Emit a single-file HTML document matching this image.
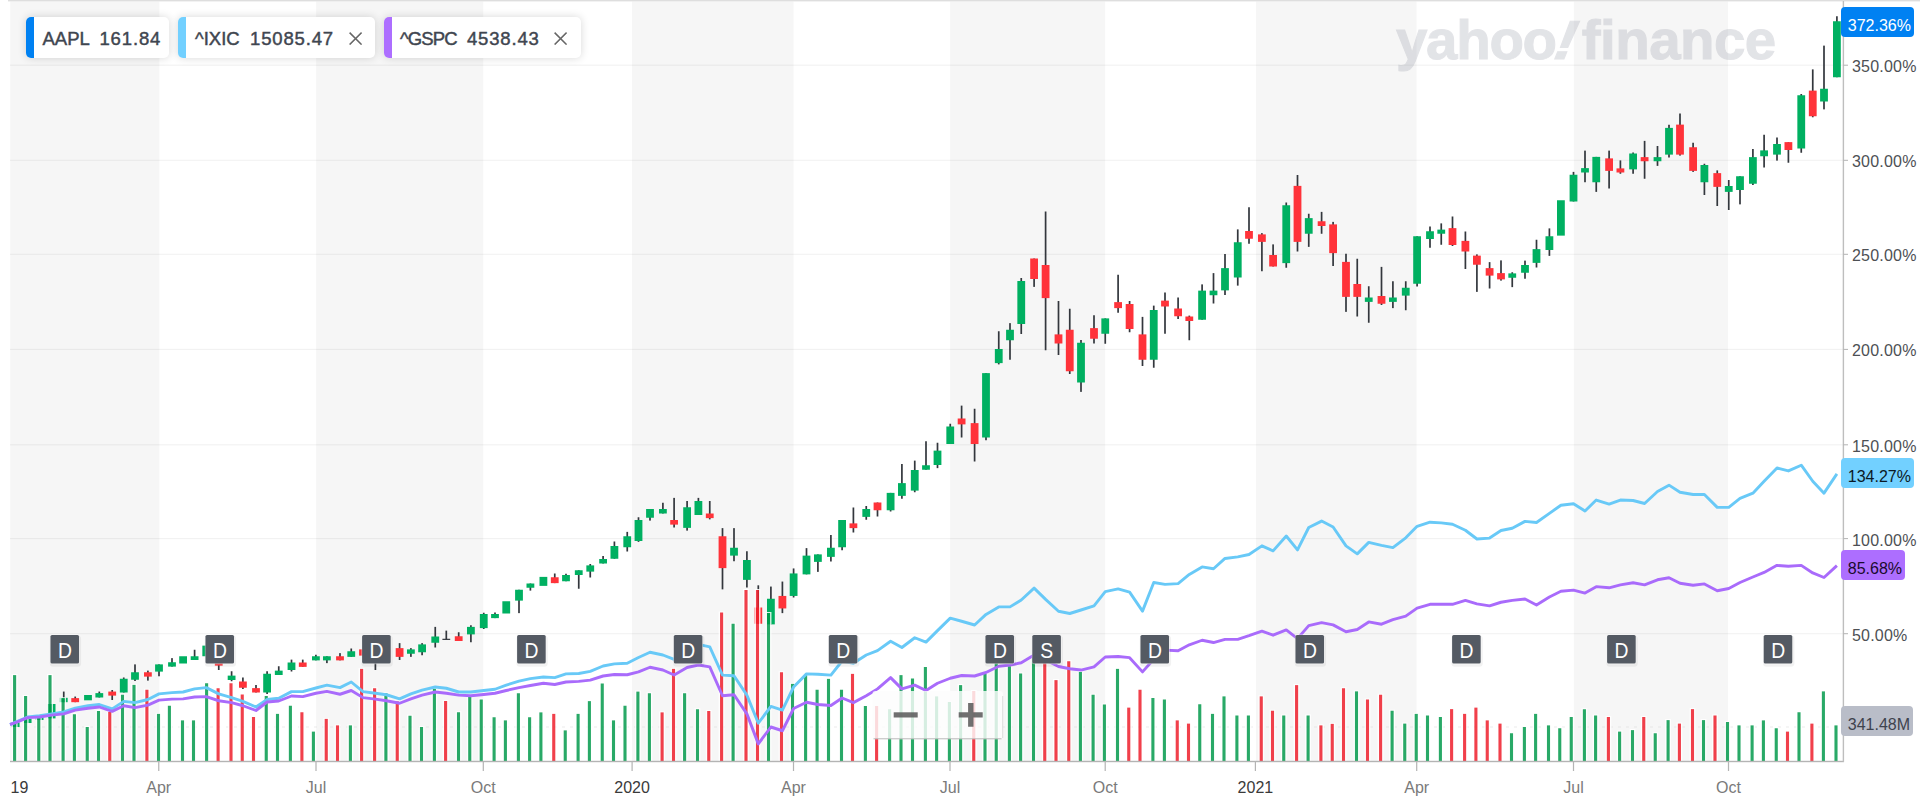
<!DOCTYPE html>
<html lang="en"><head><meta charset="utf-8"><title>AAPL Interactive Stock Chart</title>
<style>
html,body{margin:0;padding:0;background:#fff;}
body{width:1920px;height:806px;position:relative;overflow:hidden;font-family:"Liberation Sans",Arial,sans-serif;}
.yl{position:absolute;left:1852px;width:66px;height:18px;line-height:18px;font-size:16px;color:#4d5054;white-space:nowrap;letter-spacing:0.2px}
.xl{position:absolute;top:779.1px;width:60px;text-align:center;font-size:16px;line-height:18px;color:#7a7a7a;white-space:nowrap}
.xl.yr{color:#3a3a3a}
.pl{position:absolute;left:1841.3px;height:30px;line-height:30px;padding-top:4px;border-radius:4px;font-size:16px;box-sizing:border-box;padding-left:6.5px;white-space:nowrap}
.pill{position:absolute;top:16.5px;height:41.5px;background:#fff;border-radius:5px;box-shadow:0 0 8px rgba(0,0,0,0.16);overflow:hidden;box-sizing:border-box;}
.pill .strip{position:absolute;left:0;top:0;bottom:0;width:8px}
.pill .tx{position:absolute;top:0;height:41.5px;line-height:43.6px;font-size:18.5px;color:#3f4650;-webkit-text-stroke:0.45px #3f4650;white-space:pre;letter-spacing:0}
.pill .tx.pr{letter-spacing:0.85px}
.pill svg{position:absolute;top:15.8px}
.wm{position:absolute;left:1396px;top:7.7px;font-weight:bold;font-size:55px;line-height:64px;color:#9498a6;-webkit-text-stroke:1px #9498a6;opacity:0.26;white-space:nowrap;letter-spacing:0;transform-origin:0 0;transform:scaleX(1.026)}
.wm i{font-style:italic}
</style></head><body>
<svg width="1920" height="806" viewBox="0 0 1920 806" style="position:absolute;left:0;top:0">
<rect x="10.3" y="1.5" width="149" height="760" fill="#f6f6f6"/>
<rect x="316.2" y="1.5" width="167" height="760" fill="#f6f6f6"/>
<rect x="632" y="1.5" width="161.5" height="760" fill="#f6f6f6"/>
<rect x="950.2" y="1.5" width="154.9" height="760" fill="#f6f6f6"/>
<rect x="1256" y="1.5" width="160.5" height="760" fill="#f6f6f6"/>
<rect x="1573.9" y="1.5" width="154" height="760" fill="#f6f6f6"/>
<rect x="8" y="0" width="1912" height="1.4" fill="#dedede"/>
<rect x="10" y="64.6" width="1833.4" height="1.2" fill="rgba(0,0,0,0.05)"/>
<rect x="10" y="159.7" width="1833.4" height="1.2" fill="rgba(0,0,0,0.05)"/>
<rect x="10" y="253.7" width="1833.4" height="1.2" fill="rgba(0,0,0,0.05)"/>
<rect x="10" y="348.8" width="1833.4" height="1.2" fill="rgba(0,0,0,0.05)"/>
<rect x="10" y="444.2" width="1833.4" height="1.2" fill="rgba(0,0,0,0.05)"/>
<rect x="10" y="538" width="1833.4" height="1.2" fill="rgba(0,0,0,0.05)"/>
<rect x="10" y="633.1" width="1833.4" height="1.2" fill="rgba(0,0,0,0.05)"/>
<line x1="10" y1="727" x2="1843" y2="727" stroke="#dcdcdc" stroke-width="1" stroke-dasharray="3 5" opacity="0.55"/>
<g>
<rect x="11.76" y="722.5" width="7.8" height="4.5" fill="#00b061"/>
<rect x="23.74" y="718.75" width="7.8" height="4.25" fill="#00b061"/>
<rect x="35.72" y="717.5" width="7.8" height="2.5" fill="#00b061"/>
<rect x="47.7" y="704" width="7.8" height="14.4" fill="#00b061"/>
<rect x="62.9" y="691.56" width="1.7" height="10.62" fill="#33373d"/>
<rect x="59.85" y="697.81" width="7.8" height="4.38" fill="#00b061"/>
<rect x="74.35" y="696.56" width="1.7" height="5.62" fill="#33373d"/>
<rect x="71.3" y="698.12" width="7.8" height="4.06" fill="#ff333a"/>
<rect x="84.1" y="695" width="7.8" height="5.31" fill="#00b061"/>
<rect x="98.45" y="691.56" width="1.7" height="5.94" fill="#33373d"/>
<rect x="95.4" y="693.12" width="7.8" height="4.38" fill="#00b061"/>
<rect x="111.35" y="690" width="1.7" height="10" fill="#33373d"/>
<rect x="108.3" y="691.56" width="7.8" height="4.06" fill="#ff333a"/>
<rect x="122.9" y="677.5" width="1.7" height="15" fill="#33373d"/>
<rect x="119.85" y="678.75" width="7.8" height="13.75" fill="#00b061"/>
<rect x="134.15" y="664.38" width="1.7" height="16.62" fill="#33373d"/>
<rect x="131.1" y="672.25" width="7.8" height="7.5" fill="#00b061"/>
<rect x="147.05" y="670.62" width="1.7" height="10" fill="#33373d"/>
<rect x="144" y="672.25" width="7.8" height="4.38" fill="#ff333a"/>
<rect x="158.15" y="664.38" width="1.7" height="11.88" fill="#33373d"/>
<rect x="155.1" y="664.38" width="7.8" height="7.25" fill="#00b061"/>
<rect x="171.15" y="658.12" width="1.7" height="8.5" fill="#33373d"/>
<rect x="168.1" y="662.25" width="7.8" height="4.38" fill="#00b061"/>
<rect x="179.2" y="656.25" width="7.8" height="7.25" fill="#00b061"/>
<rect x="193.75" y="649.75" width="1.7" height="10.25" fill="#33373d"/>
<rect x="190.7" y="656.25" width="7.8" height="3.75" fill="#00b061"/>
<rect x="202.35" y="645.62" width="7.8" height="10.62" fill="#00b061"/>
<rect x="217.9" y="660" width="1.7" height="10" fill="#33373d"/>
<rect x="214.85" y="660" width="7.8" height="5.62" fill="#ff333a"/>
<rect x="230.75" y="671.25" width="1.7" height="10" fill="#33373d"/>
<rect x="227.7" y="675.62" width="7.8" height="4.38" fill="#00b061"/>
<rect x="242.05" y="677.5" width="1.7" height="11.5" fill="#33373d"/>
<rect x="239" y="681.5" width="7.8" height="6.25" fill="#ff333a"/>
<rect x="255.15" y="685" width="1.7" height="7.5" fill="#33373d"/>
<rect x="252.1" y="688.12" width="7.8" height="4.38" fill="#ff333a"/>
<rect x="266.25" y="671.25" width="1.7" height="22.75" fill="#33373d"/>
<rect x="263.2" y="673.75" width="7.8" height="18.75" fill="#00b061"/>
<rect x="277.9" y="666.25" width="1.7" height="8.75" fill="#33373d"/>
<rect x="274.85" y="670.62" width="7.8" height="4.38" fill="#00b061"/>
<rect x="290.65" y="659.62" width="1.7" height="11.88" fill="#33373d"/>
<rect x="287.6" y="662.5" width="7.8" height="7.5" fill="#00b061"/>
<rect x="301.9" y="659.62" width="1.7" height="7.25" fill="#33373d"/>
<rect x="298.85" y="662.5" width="7.8" height="4.38" fill="#ff333a"/>
<rect x="315.05" y="654.75" width="1.7" height="5.62" fill="#33373d"/>
<rect x="312" y="656.25" width="7.8" height="4.12" fill="#00b061"/>
<rect x="326.05" y="656.25" width="1.7" height="6.88" fill="#33373d"/>
<rect x="323" y="656.25" width="7.8" height="4.12" fill="#00b061"/>
<rect x="339.15" y="653.12" width="1.7" height="7.25" fill="#33373d"/>
<rect x="336.1" y="656.25" width="7.8" height="4.12" fill="#ff333a"/>
<rect x="350.4" y="648.5" width="1.7" height="8.38" fill="#33373d"/>
<rect x="347.35" y="651.25" width="7.8" height="5.62" fill="#00b061"/>
<rect x="359.1" y="649.38" width="7.8" height="6.25" fill="#ff333a"/>
<rect x="374.55" y="651.25" width="1.7" height="18.75" fill="#33373d"/>
<rect x="371.5" y="651.25" width="7.8" height="8.75" fill="#00b061"/>
<rect x="382.5" y="650" width="7.8" height="7.5" fill="#ff333a"/>
<rect x="398.75" y="643.12" width="1.7" height="16.88" fill="#33373d"/>
<rect x="395.7" y="648.12" width="7.8" height="8.75" fill="#ff333a"/>
<rect x="410.05" y="648.12" width="1.7" height="8.75" fill="#33373d"/>
<rect x="407" y="649.38" width="7.8" height="4.38" fill="#00b061"/>
<rect x="421.25" y="643.12" width="1.7" height="12.12" fill="#33373d"/>
<rect x="418.2" y="644.38" width="7.8" height="7.88" fill="#00b061"/>
<rect x="434.4" y="626.88" width="1.7" height="20.62" fill="#33373d"/>
<rect x="431.35" y="636.5" width="7.8" height="6.25" fill="#00b061"/>
<rect x="445.45" y="630.62" width="1.7" height="9" fill="#33373d"/>
<rect x="442.4" y="638.75" width="7.8" height="1.2" fill="#33373d"/>
<rect x="457.85" y="632.25" width="1.7" height="8.75" fill="#33373d"/>
<rect x="454.8" y="636.25" width="7.8" height="4.75" fill="#ff333a"/>
<rect x="470.05" y="625.25" width="1.7" height="17" fill="#33373d"/>
<rect x="467" y="626.88" width="7.8" height="7.5" fill="#00b061"/>
<rect x="482.9" y="612.75" width="1.7" height="16.25" fill="#33373d"/>
<rect x="479.85" y="614" width="7.8" height="14.12" fill="#00b061"/>
<rect x="494.15" y="612.5" width="1.7" height="5.62" fill="#33373d"/>
<rect x="491.1" y="614" width="7.8" height="4.12" fill="#00b061"/>
<rect x="502.35" y="601.25" width="7.8" height="12.25" fill="#00b061"/>
<rect x="518.15" y="589.75" width="1.7" height="23.38" fill="#33373d"/>
<rect x="515.1" y="589.75" width="7.8" height="10.88" fill="#00b061"/>
<rect x="529.55" y="583.5" width="1.7" height="7.12" fill="#33373d"/>
<rect x="526.5" y="583.5" width="7.8" height="4.25" fill="#00b061"/>
<rect x="539.5" y="576.88" width="7.8" height="9" fill="#00b061"/>
<rect x="553.9" y="573.5" width="1.7" height="9.62" fill="#33373d"/>
<rect x="550.85" y="577.25" width="7.8" height="5.88" fill="#ff333a"/>
<rect x="565.15" y="573.75" width="1.7" height="7.5" fill="#33373d"/>
<rect x="562.1" y="575" width="7.8" height="6.25" fill="#00b061"/>
<rect x="577.9" y="570.25" width="1.7" height="18.5" fill="#33373d"/>
<rect x="574.85" y="570.25" width="7.8" height="4.75" fill="#00b061"/>
<rect x="589.4" y="564" width="1.7" height="13.5" fill="#33373d"/>
<rect x="586.35" y="565.38" width="7.8" height="6.25" fill="#00b061"/>
<rect x="602.25" y="556" width="1.7" height="7.5" fill="#33373d"/>
<rect x="599.2" y="559" width="7.8" height="4.5" fill="#00b061"/>
<rect x="613.55" y="541.5" width="1.7" height="17.25" fill="#33373d"/>
<rect x="610.5" y="546" width="7.8" height="12.75" fill="#00b061"/>
<rect x="626.4" y="531.88" width="1.7" height="19.62" fill="#33373d"/>
<rect x="623.35" y="536.25" width="7.8" height="11" fill="#00b061"/>
<rect x="637.65" y="517.25" width="1.7" height="24.62" fill="#33373d"/>
<rect x="634.6" y="520" width="7.8" height="21" fill="#00b061"/>
<rect x="649.15" y="509" width="1.7" height="11.62" fill="#33373d"/>
<rect x="646.1" y="509" width="7.8" height="8.75" fill="#00b061"/>
<rect x="662.05" y="502.75" width="1.7" height="10.75" fill="#33373d"/>
<rect x="659" y="509" width="7.8" height="4.5" fill="#00b061"/>
<rect x="673.25" y="497.88" width="1.7" height="29.62" fill="#33373d"/>
<rect x="670.2" y="520" width="7.8" height="4.62" fill="#ff333a"/>
<rect x="686.25" y="501" width="1.7" height="29.62" fill="#33373d"/>
<rect x="683.2" y="507.25" width="7.8" height="20.62" fill="#00b061"/>
<rect x="697.55" y="497.88" width="1.7" height="17.12" fill="#33373d"/>
<rect x="694.5" y="501" width="7.8" height="14" fill="#00b061"/>
<rect x="708.9" y="501" width="1.7" height="18.38" fill="#33373d"/>
<rect x="705.85" y="513.5" width="7.8" height="4.62" fill="#ff333a"/>
<rect x="721.65" y="528.12" width="1.7" height="61.25" fill="#33373d"/>
<rect x="718.6" y="536.25" width="7.8" height="31.88" fill="#ff333a"/>
<rect x="733.15" y="528.12" width="1.7" height="33.12" fill="#33373d"/>
<rect x="730.1" y="547.75" width="7.8" height="7.88" fill="#00b061"/>
<rect x="746.05" y="551.25" width="1.7" height="36.25" fill="#33373d"/>
<rect x="743" y="560" width="7.8" height="19.88" fill="#00b061"/>
<rect x="757.45" y="585.31" width="1.7" height="38.44" fill="#33373d"/>
<rect x="754.4" y="607.5" width="7.8" height="16.25" fill="#ff333a"/>
<rect x="770.05" y="586.56" width="1.7" height="37.81" fill="#33373d"/>
<rect x="767" y="598.75" width="7.8" height="25.62" fill="#00b061"/>
<rect x="781.55" y="581.56" width="1.7" height="31.56" fill="#33373d"/>
<rect x="778.5" y="595.94" width="7.8" height="12.5" fill="#ff333a"/>
<rect x="792.75" y="568.44" width="1.7" height="29.06" fill="#33373d"/>
<rect x="789.7" y="573.44" width="7.8" height="22.5" fill="#00b061"/>
<rect x="805.65" y="548.12" width="1.7" height="26.25" fill="#33373d"/>
<rect x="802.6" y="555.62" width="7.8" height="18.75" fill="#00b061"/>
<rect x="817.05" y="554.38" width="1.7" height="17.5" fill="#33373d"/>
<rect x="814" y="554.38" width="7.8" height="7.5" fill="#00b061"/>
<rect x="830.05" y="535" width="1.7" height="26.5" fill="#33373d"/>
<rect x="827" y="547.75" width="7.8" height="9.12" fill="#00b061"/>
<rect x="841.25" y="520" width="1.7" height="30.25" fill="#33373d"/>
<rect x="838.2" y="520" width="7.8" height="27.25" fill="#00b061"/>
<rect x="852.55" y="507.5" width="1.7" height="25" fill="#33373d"/>
<rect x="849.5" y="523.38" width="7.8" height="4.75" fill="#ff333a"/>
<rect x="865.4" y="506" width="1.7" height="13.75" fill="#33373d"/>
<rect x="862.35" y="509" width="7.8" height="7.88" fill="#00b061"/>
<rect x="876.65" y="502.5" width="1.7" height="14" fill="#33373d"/>
<rect x="873.6" y="502.5" width="7.8" height="7.75" fill="#ff333a"/>
<rect x="889.75" y="492.88" width="1.7" height="18.62" fill="#33373d"/>
<rect x="886.7" y="492.88" width="7.8" height="17.38" fill="#00b061"/>
<rect x="901.05" y="464" width="1.7" height="34.75" fill="#33373d"/>
<rect x="898" y="483.12" width="7.8" height="12.75" fill="#00b061"/>
<rect x="913.9" y="460.62" width="1.7" height="31.62" fill="#33373d"/>
<rect x="910.85" y="470" width="7.8" height="20.62" fill="#00b061"/>
<rect x="925.15" y="441.25" width="1.7" height="28.5" fill="#33373d"/>
<rect x="922.1" y="465.25" width="7.8" height="4.5" fill="#00b061"/>
<rect x="936.65" y="442.75" width="1.7" height="25.38" fill="#33373d"/>
<rect x="933.6" y="450.62" width="7.8" height="14.38" fill="#00b061"/>
<rect x="949.4" y="423.75" width="1.7" height="20.25" fill="#33373d"/>
<rect x="946.35" y="426.5" width="7.8" height="17.5" fill="#00b061"/>
<rect x="960.75" y="405.62" width="1.7" height="31.88" fill="#33373d"/>
<rect x="957.7" y="418.5" width="7.8" height="5.88" fill="#ff333a"/>
<rect x="973.75" y="408.75" width="1.7" height="52.75" fill="#33373d"/>
<rect x="970.7" y="423.12" width="7.8" height="20.88" fill="#ff333a"/>
<rect x="985.15" y="373.12" width="1.7" height="67.12" fill="#33373d"/>
<rect x="982.1" y="373.12" width="7.8" height="64.38" fill="#00b061"/>
<rect x="997.9" y="331.25" width="1.7" height="33.12" fill="#33373d"/>
<rect x="994.85" y="349" width="7.8" height="14.12" fill="#00b061"/>
<rect x="1009.15" y="323.12" width="1.7" height="36.62" fill="#33373d"/>
<rect x="1006.1" y="329.75" width="7.8" height="10.5" fill="#00b061"/>
<rect x="1020.4" y="278" width="1.7" height="56" fill="#33373d"/>
<rect x="1017.35" y="281" width="7.8" height="43" fill="#00b061"/>
<rect x="1033.25" y="258.5" width="1.7" height="28.38" fill="#33373d"/>
<rect x="1030.2" y="258.5" width="7.8" height="20.5" fill="#ff333a"/>
<rect x="1044.75" y="211.5" width="1.7" height="138.75" fill="#33373d"/>
<rect x="1041.7" y="265" width="7.8" height="33.12" fill="#ff333a"/>
<rect x="1057.65" y="301" width="1.7" height="54" fill="#33373d"/>
<rect x="1054.6" y="334.38" width="7.8" height="9.12" fill="#ff333a"/>
<rect x="1068.9" y="308.75" width="1.7" height="65.25" fill="#33373d"/>
<rect x="1065.85" y="329.75" width="7.8" height="41.5" fill="#ff333a"/>
<rect x="1080.15" y="340" width="1.7" height="51.88" fill="#33373d"/>
<rect x="1077.1" y="342.75" width="7.8" height="39.75" fill="#00b061"/>
<rect x="1093.15" y="315.25" width="1.7" height="28.25" fill="#33373d"/>
<rect x="1090.1" y="328.12" width="7.8" height="10.62" fill="#ff333a"/>
<rect x="1104.4" y="318.38" width="1.7" height="25.38" fill="#33373d"/>
<rect x="1101.35" y="318.38" width="7.8" height="15.38" fill="#00b061"/>
<rect x="1117.25" y="274.75" width="1.7" height="38" fill="#33373d"/>
<rect x="1114.2" y="302.12" width="7.8" height="6" fill="#ff333a"/>
<rect x="1128.75" y="301" width="1.7" height="31.25" fill="#33373d"/>
<rect x="1125.7" y="304" width="7.8" height="25" fill="#ff333a"/>
<rect x="1141.65" y="316.88" width="1.7" height="49.12" fill="#33373d"/>
<rect x="1138.6" y="334.38" width="7.8" height="25.38" fill="#ff333a"/>
<rect x="1152.9" y="305.62" width="1.7" height="62.12" fill="#33373d"/>
<rect x="1149.85" y="310" width="7.8" height="49.75" fill="#00b061"/>
<rect x="1164.15" y="292.5" width="1.7" height="41.25" fill="#33373d"/>
<rect x="1161.1" y="300.62" width="7.8" height="5.88" fill="#ff333a"/>
<rect x="1177.25" y="297.5" width="1.7" height="21.5" fill="#33373d"/>
<rect x="1174.2" y="308.5" width="7.8" height="7.75" fill="#ff333a"/>
<rect x="1188.45" y="315.62" width="1.7" height="24.62" fill="#33373d"/>
<rect x="1185.4" y="316.5" width="7.8" height="4.5" fill="#ff333a"/>
<rect x="1201.25" y="284.38" width="1.7" height="35.38" fill="#33373d"/>
<rect x="1198.2" y="290.62" width="7.8" height="29.12" fill="#00b061"/>
<rect x="1212.65" y="273.12" width="1.7" height="30.38" fill="#33373d"/>
<rect x="1209.6" y="290.62" width="7.8" height="4.62" fill="#00b061"/>
<rect x="1224.15" y="254" width="1.7" height="41" fill="#33373d"/>
<rect x="1221.1" y="268.12" width="7.8" height="22.25" fill="#00b061"/>
<rect x="1236.9" y="229.38" width="1.7" height="56.25" fill="#33373d"/>
<rect x="1233.85" y="242.25" width="7.8" height="35.25" fill="#00b061"/>
<rect x="1248.15" y="207.25" width="1.7" height="36.5" fill="#33373d"/>
<rect x="1245.1" y="231" width="7.8" height="7.75" fill="#ff333a"/>
<rect x="1261.05" y="233.12" width="1.7" height="38.12" fill="#33373d"/>
<rect x="1258" y="234.38" width="7.8" height="7.5" fill="#ff333a"/>
<rect x="1272.25" y="244.38" width="1.7" height="22.12" fill="#33373d"/>
<rect x="1269.2" y="255" width="7.8" height="11.5" fill="#ff333a"/>
<rect x="1285.4" y="202.5" width="1.7" height="65.25" fill="#33373d"/>
<rect x="1282.35" y="205.25" width="7.8" height="57.88" fill="#00b061"/>
<rect x="1296.65" y="175" width="1.7" height="76.5" fill="#33373d"/>
<rect x="1293.6" y="185.88" width="7.8" height="56" fill="#ff333a"/>
<rect x="1307.9" y="213.75" width="1.7" height="33.12" fill="#33373d"/>
<rect x="1304.85" y="218.12" width="7.8" height="15.62" fill="#00b061"/>
<rect x="1320.75" y="211.88" width="1.7" height="21.88" fill="#33373d"/>
<rect x="1317.7" y="221.25" width="7.8" height="4.75" fill="#ff333a"/>
<rect x="1332.25" y="221.88" width="1.7" height="44.12" fill="#33373d"/>
<rect x="1329.2" y="224.38" width="7.8" height="28.75" fill="#ff333a"/>
<rect x="1345.15" y="253.75" width="1.7" height="58.12" fill="#33373d"/>
<rect x="1342.1" y="261.88" width="7.8" height="35" fill="#ff333a"/>
<rect x="1356.4" y="258.75" width="1.7" height="57.75" fill="#33373d"/>
<rect x="1353.35" y="284" width="7.8" height="12.88" fill="#ff333a"/>
<rect x="1367.9" y="286.25" width="1.7" height="36.5" fill="#33373d"/>
<rect x="1364.85" y="297.5" width="7.8" height="4.38" fill="#00b061"/>
<rect x="1380.65" y="266.88" width="1.7" height="38.12" fill="#33373d"/>
<rect x="1377.6" y="296" width="7.8" height="7.75" fill="#ff333a"/>
<rect x="1392.05" y="281.25" width="1.7" height="26.88" fill="#33373d"/>
<rect x="1389" y="297.5" width="7.8" height="4.38" fill="#00b061"/>
<rect x="1404.9" y="281.25" width="1.7" height="29" fill="#33373d"/>
<rect x="1401.85" y="287.75" width="7.8" height="7.88" fill="#00b061"/>
<rect x="1416.25" y="236.25" width="1.7" height="50.25" fill="#33373d"/>
<rect x="1413.2" y="236.25" width="7.8" height="47.5" fill="#00b061"/>
<rect x="1429.15" y="226.5" width="1.7" height="21.25" fill="#33373d"/>
<rect x="1426.1" y="231.25" width="7.8" height="7.75" fill="#00b061"/>
<rect x="1440.4" y="223.38" width="1.7" height="21.38" fill="#33373d"/>
<rect x="1437.35" y="229.62" width="7.8" height="4.12" fill="#00b061"/>
<rect x="1451.65" y="216.5" width="1.7" height="29.5" fill="#33373d"/>
<rect x="1448.6" y="228.12" width="7.8" height="16.88" fill="#ff333a"/>
<rect x="1464.55" y="231.5" width="1.7" height="37.5" fill="#33373d"/>
<rect x="1461.5" y="240.88" width="7.8" height="10.62" fill="#ff333a"/>
<rect x="1476.05" y="254.38" width="1.7" height="37.5" fill="#33373d"/>
<rect x="1473" y="255.62" width="7.8" height="9.12" fill="#ff333a"/>
<rect x="1488.75" y="262.12" width="1.7" height="26.38" fill="#33373d"/>
<rect x="1485.7" y="268.12" width="7.8" height="7.5" fill="#ff333a"/>
<rect x="1500.15" y="260.38" width="1.7" height="20.25" fill="#33373d"/>
<rect x="1497.1" y="273.12" width="7.8" height="6.25" fill="#ff333a"/>
<rect x="1511.4" y="272.25" width="1.7" height="14.88" fill="#33373d"/>
<rect x="1508.35" y="273.38" width="7.8" height="4.38" fill="#00b061"/>
<rect x="1524.15" y="260.62" width="1.7" height="18.12" fill="#33373d"/>
<rect x="1521.1" y="265" width="7.8" height="7.75" fill="#00b061"/>
<rect x="1535.65" y="239.75" width="1.7" height="27.75" fill="#33373d"/>
<rect x="1532.6" y="249.12" width="7.8" height="13.75" fill="#00b061"/>
<rect x="1548.55" y="228.38" width="1.7" height="27.5" fill="#33373d"/>
<rect x="1545.5" y="236.25" width="7.8" height="13.75" fill="#00b061"/>
<rect x="1557" y="200.25" width="7.8" height="35.38" fill="#00b061"/>
<rect x="1572.65" y="171.88" width="1.7" height="29.62" fill="#33373d"/>
<rect x="1569.6" y="174.75" width="7.8" height="26.75" fill="#00b061"/>
<rect x="1584.15" y="150.62" width="1.7" height="31.62" fill="#33373d"/>
<rect x="1581.1" y="168.12" width="7.8" height="4.38" fill="#00b061"/>
<rect x="1595.4" y="156.88" width="1.7" height="35" fill="#33373d"/>
<rect x="1592.35" y="156.88" width="7.8" height="25.38" fill="#00b061"/>
<rect x="1608.25" y="150.62" width="1.7" height="37.88" fill="#33373d"/>
<rect x="1605.2" y="158.38" width="7.8" height="12.5" fill="#ff333a"/>
<rect x="1619.55" y="160.38" width="1.7" height="13.38" fill="#33373d"/>
<rect x="1616.5" y="168.38" width="7.8" height="4.12" fill="#ff333a"/>
<rect x="1632.25" y="152.5" width="1.7" height="21.25" fill="#33373d"/>
<rect x="1629.2" y="153.5" width="7.8" height="15.88" fill="#00b061"/>
<rect x="1643.75" y="140.88" width="1.7" height="37.88" fill="#33373d"/>
<rect x="1640.7" y="157.12" width="7.8" height="4.12" fill="#ff333a"/>
<rect x="1656.65" y="146" width="1.7" height="19.88" fill="#33373d"/>
<rect x="1653.6" y="157.12" width="7.8" height="4.12" fill="#00b061"/>
<rect x="1668.15" y="124.75" width="1.7" height="32.75" fill="#33373d"/>
<rect x="1665.1" y="127.88" width="7.8" height="26.75" fill="#00b061"/>
<rect x="1679.15" y="113.5" width="1.7" height="42.12" fill="#33373d"/>
<rect x="1676.1" y="124.62" width="7.8" height="30" fill="#ff333a"/>
<rect x="1692.25" y="142.75" width="1.7" height="29.12" fill="#33373d"/>
<rect x="1689.2" y="147.25" width="7.8" height="23.62" fill="#ff333a"/>
<rect x="1703.55" y="163.75" width="1.7" height="31.25" fill="#33373d"/>
<rect x="1700.5" y="165" width="7.8" height="17.25" fill="#00b061"/>
<rect x="1716.4" y="170.38" width="1.7" height="35.62" fill="#33373d"/>
<rect x="1713.35" y="173.12" width="7.8" height="13.75" fill="#ff333a"/>
<rect x="1727.9" y="180" width="1.7" height="30" fill="#33373d"/>
<rect x="1724.85" y="186" width="7.8" height="5.88" fill="#00b061"/>
<rect x="1739.15" y="176.25" width="1.7" height="28.12" fill="#33373d"/>
<rect x="1736.1" y="176.25" width="7.8" height="13.75" fill="#00b061"/>
<rect x="1752.05" y="149" width="1.7" height="36" fill="#33373d"/>
<rect x="1749" y="157.12" width="7.8" height="26.62" fill="#00b061"/>
<rect x="1763.25" y="134.75" width="1.7" height="32.75" fill="#33373d"/>
<rect x="1760.2" y="150.38" width="7.8" height="5.88" fill="#00b061"/>
<rect x="1776.15" y="137.5" width="1.7" height="23.12" fill="#33373d"/>
<rect x="1773.1" y="144" width="7.8" height="10.62" fill="#00b061"/>
<rect x="1787.55" y="142.12" width="1.7" height="20.62" fill="#33373d"/>
<rect x="1784.5" y="142.12" width="7.8" height="7.88" fill="#ff333a"/>
<rect x="1800.4" y="94" width="1.7" height="58.75" fill="#33373d"/>
<rect x="1797.35" y="95.25" width="7.8" height="53.25" fill="#00b061"/>
<rect x="1811.9" y="69.38" width="1.7" height="47.88" fill="#33373d"/>
<rect x="1808.85" y="90.62" width="7.8" height="25.62" fill="#ff333a"/>
<rect x="1823.15" y="45.62" width="1.7" height="63.75" fill="#33373d"/>
<rect x="1820.1" y="88.75" width="7.8" height="12.75" fill="#00b061"/>
<rect x="1836.05" y="16.25" width="1.7" height="61" fill="#33373d"/>
<rect x="1833" y="21.25" width="7.8" height="56" fill="#00b061"/>
</g>
<g fill="#ffffff" fill-opacity="0.85">
<path d="M11.65 674.12h5.9v87.08h-1.4v-86.08h-3.1v86.08h-1.4z"/>
<path d="M22.65 695h5.9v66.2h-1.4v-65.2h-3.1v65.2h-1.4z"/>
<path d="M35.8 716h5.9v45.2h-1.4v-44.2h-3.1v44.2h-1.4z"/>
<path d="M47.05 674.12h5.9v87.08h-1.4v-86.08h-3.1v86.08h-1.4z"/>
<path d="M60.15 697.25h5.9v63.95h-1.4v-62.95h-3.1v62.95h-1.4z"/>
<path d="M71.45 713.25h5.9v47.95h-1.4v-46.95h-3.1v46.95h-1.4z"/>
<path d="M84.3 726h5.9v35.2h-1.4v-34.2h-3.1v34.2h-1.4z"/>
<path d="M95.55 710h5.9v51.2h-1.4v-50.2h-3.1v50.2h-1.4z"/>
<path d="M106.8 711h5.9v50.2h-1.4v-49.2h-3.1v49.2h-1.4z"/>
<path d="M119.55 693.75h5.9v67.45h-1.4v-66.45h-3.1v66.45h-1.4z"/>
<path d="M131.05 683.88h5.9v77.33h-1.4v-76.33h-3.1v76.33h-1.4z"/>
<path d="M143.95 688.75h5.9v72.45h-1.4v-71.45h-3.1v71.45h-1.4z"/>
<path d="M155.55 712.88h5.9v48.33h-1.4v-47.33h-3.1v47.33h-1.4z"/>
<path d="M166.45 704.75h5.9v56.45h-1.4v-55.45h-3.1v55.45h-1.4z"/>
<path d="M179.55 719.38h5.9v41.83h-1.4v-40.83h-3.1v40.83h-1.4z"/>
<path d="M190.55 719.38h5.9v41.83h-1.4v-40.83h-3.1v40.83h-1.4z"/>
<path d="M203.65 682.25h5.9v78.95h-1.4v-77.95h-3.1v77.95h-1.4z"/>
<path d="M215.15 687.25h5.9v73.95h-1.4v-72.95h-3.1v72.95h-1.4z"/>
<path d="M228.05 682.25h5.9v78.95h-1.4v-77.95h-3.1v77.95h-1.4z"/>
<path d="M239.3 693.5h5.9v67.7h-1.4v-66.7h-3.1v66.7h-1.4z"/>
<path d="M250.55 716h5.9v45.2h-1.4v-44.2h-3.1v44.2h-1.4z"/>
<path d="M263.3 695h5.9v66.2h-1.4v-65.2h-3.1v65.2h-1.4z"/>
<path d="M274.55 712.88h5.9v48.33h-1.4v-47.33h-3.1v47.33h-1.4z"/>
<path d="M287.45 704.75h5.9v56.45h-1.4v-55.45h-3.1v55.45h-1.4z"/>
<path d="M298.95 711.25h5.9v49.95h-1.4v-48.95h-3.1v48.95h-1.4z"/>
<path d="M310.45 730.62h5.9v30.58h-1.4v-29.58h-3.1v29.58h-1.4z"/>
<path d="M323.3 717.88h5.9v43.33h-1.4v-42.33h-3.1v42.33h-1.4z"/>
<path d="M334.55 724.38h5.9v36.83h-1.4v-35.83h-3.1v35.83h-1.4z"/>
<path d="M347.45 724.38h5.9v36.83h-1.4v-35.83h-3.1v35.83h-1.4z"/>
<path d="M358.65 667.88h5.9v93.33h-1.4v-92.33h-3.1v92.33h-1.4z"/>
<path d="M371.65 687.25h5.9v73.95h-1.4v-72.95h-3.1v72.95h-1.4z"/>
<path d="M382.95 692.25h5.9v68.95h-1.4v-67.95h-3.1v67.95h-1.4z"/>
<path d="M394.3 700.38h5.9v60.83h-1.4v-59.83h-3.1v59.83h-1.4z"/>
<path d="M407.05 714.75h5.9v46.45h-1.4v-45.45h-3.1v45.45h-1.4z"/>
<path d="M418.55 726h5.9v35.2h-1.4v-34.2h-3.1v34.2h-1.4z"/>
<path d="M431.45 687.88h5.9v73.33h-1.4v-72.33h-3.1v72.33h-1.4z"/>
<path d="M442.65 700h5.9v61.2h-1.4v-60.2h-3.1v60.2h-1.4z"/>
<path d="M455.55 711.25h5.9v49.95h-1.4v-48.95h-3.1v48.95h-1.4z"/>
<path d="M466.8 696h5.9v65.2h-1.4v-64.2h-3.1v64.2h-1.4z"/>
<path d="M478.3 698.5h5.9v62.7h-1.4v-61.7h-3.1v61.7h-1.4z"/>
<path d="M491.15 716.25h5.9v44.95h-1.4v-43.95h-3.1v43.95h-1.4z"/>
<path d="M502.45 719.38h5.9v41.83h-1.4v-40.83h-3.1v40.83h-1.4z"/>
<path d="M515.45 692.25h5.9v68.95h-1.4v-67.95h-3.1v67.95h-1.4z"/>
<path d="M526.65 716.25h5.9v44.95h-1.4v-43.95h-3.1v43.95h-1.4z"/>
<path d="M537.95 711.38h5.9v49.83h-1.4v-48.83h-3.1v48.83h-1.4z"/>
<path d="M550.8 712.88h5.9v48.33h-1.4v-47.33h-3.1v47.33h-1.4z"/>
<path d="M562.3 729.38h5.9v31.83h-1.4v-30.83h-3.1v30.83h-1.4z"/>
<path d="M575.15 712.88h5.9v48.33h-1.4v-47.33h-3.1v47.33h-1.4z"/>
<path d="M586.45 700.12h5.9v61.08h-1.4v-60.08h-3.1v60.08h-1.4z"/>
<path d="M599.3 682.5h5.9v78.7h-1.4v-77.7h-3.1v77.7h-1.4z"/>
<path d="M610.55 719.38h5.9v41.83h-1.4v-40.83h-3.1v40.83h-1.4z"/>
<path d="M622.05 704.75h5.9v56.45h-1.4v-55.45h-3.1v55.45h-1.4z"/>
<path d="M634.95 690.62h5.9v70.58h-1.4v-69.58h-3.1v69.58h-1.4z"/>
<path d="M646.45 692.25h5.9v68.95h-1.4v-67.95h-3.1v67.95h-1.4z"/>
<path d="M659.15 711.38h5.9v49.83h-1.4v-48.83h-3.1v48.83h-1.4z"/>
<path d="M670.55 667.88h5.9v93.33h-1.4v-92.33h-3.1v92.33h-1.4z"/>
<path d="M681.65 692.25h5.9v68.95h-1.4v-67.95h-3.1v67.95h-1.4z"/>
<path d="M694.55 708.25h5.9v52.95h-1.4v-51.95h-3.1v51.95h-1.4z"/>
<path d="M705.8 710h5.9v51.2h-1.4v-50.2h-3.1v50.2h-1.4z"/>
<path d="M718.65 611.5h5.9v149.7h-1.4v-148.7h-3.1v148.7h-1.4z"/>
<path d="M730.15 622.75h5.9v138.45h-1.4v-137.45h-3.1v137.45h-1.4z"/>
<path d="M743.05 589h5.9v172.2h-1.4v-171.2h-3.1v171.2h-1.4z"/>
<path d="M754.55 589h5.9v172.2h-1.4v-171.2h-3.1v171.2h-1.4z"/>
<path d="M765.55 612.12h5.9v149.08h-1.4v-148.08h-3.1v148.08h-1.4z"/>
<path d="M778.55 671.25h5.9v89.95h-1.4v-88.95h-3.1v88.95h-1.4z"/>
<path d="M789.55 682.88h5.9v78.33h-1.4v-77.33h-3.1v77.33h-1.4z"/>
<path d="M802.65 673.5h5.9v87.7h-1.4v-86.7h-3.1v86.7h-1.4z"/>
<path d="M814.15 688.75h5.9v72.45h-1.4v-71.45h-3.1v71.45h-1.4z"/>
<path d="M825.55 677.88h5.9v83.33h-1.4v-82.33h-3.1v82.33h-1.4z"/>
<path d="M838.55 688.75h5.9v72.45h-1.4v-71.45h-3.1v71.45h-1.4z"/>
<path d="M849.55 672.88h5.9v88.33h-1.4v-87.33h-3.1v87.33h-1.4z"/>
<path d="M862.45 705h5.9v56.2h-1.4v-55.2h-3.1v55.2h-1.4z"/>
<path d="M873.65 705h5.9v56.2h-1.4v-55.2h-3.1v55.2h-1.4z"/>
<path d="M886.65 708.25h5.9v52.95h-1.4v-51.95h-3.1v51.95h-1.4z"/>
<path d="M898.05 674.12h5.9v87.08h-1.4v-86.08h-3.1v86.08h-1.4z"/>
<path d="M909.55 677.5h5.9v83.7h-1.4v-82.7h-3.1v82.7h-1.4z"/>
<path d="M922.45 666h5.9v95.2h-1.4v-94.2h-3.1v94.2h-1.4z"/>
<path d="M933.65 695.38h5.9v65.83h-1.4v-64.83h-3.1v64.83h-1.4z"/>
<path d="M946.45 701h5.9v60.2h-1.4v-59.2h-3.1v59.2h-1.4z"/>
<path d="M957.65 684.12h5.9v77.08h-1.4v-76.08h-3.1v76.08h-1.4z"/>
<path d="M970.8 690h5.9v71.2h-1.4v-70.2h-3.1v70.2h-1.4z"/>
<path d="M982.05 673h5.9v88.2h-1.4v-87.2h-3.1v87.2h-1.4z"/>
<path d="M993.3 659h5.9v102.2h-1.4v-101.2h-3.1v101.2h-1.4z"/>
<path d="M1006.45 665.25h5.9v95.95h-1.4v-94.95h-3.1v94.95h-1.4z"/>
<path d="M1017.65 672.5h5.9v88.7h-1.4v-87.7h-3.1v87.7h-1.4z"/>
<path d="M1030.55 654h5.9v107.2h-1.4v-106.2h-3.1v106.2h-1.4z"/>
<path d="M1041.8 649h5.9v112.2h-1.4v-111.2h-3.1v111.2h-1.4z"/>
<path d="M1053.05 679.12h5.9v82.08h-1.4v-81.08h-3.1v81.08h-1.4z"/>
<path d="M1065.8 660.25h5.9v100.95h-1.4v-99.95h-3.1v99.95h-1.4z"/>
<path d="M1077.45 671h5.9v90.2h-1.4v-89.2h-3.1v89.2h-1.4z"/>
<path d="M1090.15 693.75h5.9v67.45h-1.4v-66.45h-3.1v66.45h-1.4z"/>
<path d="M1101.45 703.5h5.9v57.7h-1.4v-56.7h-3.1v56.7h-1.4z"/>
<path d="M1114.55 667.88h5.9v93.33h-1.4v-92.33h-3.1v92.33h-1.4z"/>
<path d="M1125.8 706.62h5.9v54.58h-1.4v-53.58h-3.1v53.58h-1.4z"/>
<path d="M1137.05 688.75h5.9v72.45h-1.4v-71.45h-3.1v71.45h-1.4z"/>
<path d="M1149.95 697h5.9v64.2h-1.4v-63.2h-3.1v63.2h-1.4z"/>
<path d="M1161.45 698.5h5.9v62.7h-1.4v-61.7h-3.1v61.7h-1.4z"/>
<path d="M1174.3 719.38h5.9v41.83h-1.4v-40.83h-3.1v40.83h-1.4z"/>
<path d="M1185.55 722.62h5.9v38.58h-1.4v-37.58h-3.1v37.58h-1.4z"/>
<path d="M1196.8 703.25h5.9v57.95h-1.4v-56.95h-3.1v56.95h-1.4z"/>
<path d="M1209.55 712.88h5.9v48.33h-1.4v-47.33h-3.1v47.33h-1.4z"/>
<path d="M1221.05 695.38h5.9v65.83h-1.4v-64.83h-3.1v64.83h-1.4z"/>
<path d="M1233.95 714.5h5.9v46.7h-1.4v-45.7h-3.1v45.7h-1.4z"/>
<path d="M1245.45 714.5h5.9v46.7h-1.4v-45.7h-3.1v45.7h-1.4z"/>
<path d="M1258.3 695.38h5.9v65.83h-1.4v-64.83h-3.1v64.83h-1.4z"/>
<path d="M1269.55 709.75h5.9v51.45h-1.4v-50.45h-3.1v50.45h-1.4z"/>
<path d="M1280.8 714.5h5.9v46.7h-1.4v-45.7h-3.1v45.7h-1.4z"/>
<path d="M1293.65 684.12h5.9v77.08h-1.4v-76.08h-3.1v76.08h-1.4z"/>
<path d="M1305.15 714.5h5.9v46.7h-1.4v-45.7h-3.1v45.7h-1.4z"/>
<path d="M1317.95 724.38h5.9v36.83h-1.4v-35.83h-3.1v35.83h-1.4z"/>
<path d="M1329.3 722.88h5.9v38.33h-1.4v-37.33h-3.1v37.33h-1.4z"/>
<path d="M1340.55 687.25h5.9v73.95h-1.4v-72.95h-3.1v72.95h-1.4z"/>
<path d="M1353.55 690.38h5.9v70.83h-1.4v-69.83h-3.1v69.83h-1.4z"/>
<path d="M1364.55 698.5h5.9v62.7h-1.4v-61.7h-3.1v61.7h-1.4z"/>
<path d="M1377.65 693.75h5.9v67.45h-1.4v-66.45h-3.1v66.45h-1.4z"/>
<path d="M1389.15 709.75h5.9v51.45h-1.4v-50.45h-3.1v50.45h-1.4z"/>
<path d="M1401.8 722.62h5.9v38.58h-1.4v-37.58h-3.1v37.58h-1.4z"/>
<path d="M1413.3 712.88h5.9v48.33h-1.4v-47.33h-3.1v47.33h-1.4z"/>
<path d="M1424.55 714.5h5.9v46.7h-1.4v-45.7h-3.1v45.7h-1.4z"/>
<path d="M1437.45 716h5.9v45.2h-1.4v-44.2h-3.1v44.2h-1.4z"/>
<path d="M1448.65 708.12h5.9v53.08h-1.4v-52.08h-3.1v52.08h-1.4z"/>
<path d="M1461.65 712.88h5.9v48.33h-1.4v-47.33h-3.1v47.33h-1.4z"/>
<path d="M1472.95 706.62h5.9v54.58h-1.4v-53.58h-3.1v53.58h-1.4z"/>
<path d="M1484.3 719.38h5.9v41.83h-1.4v-40.83h-3.1v40.83h-1.4z"/>
<path d="M1497.05 722.62h5.9v38.58h-1.4v-37.58h-3.1v37.58h-1.4z"/>
<path d="M1508.55 732.25h5.9v28.95h-1.4v-27.95h-3.1v27.95h-1.4z"/>
<path d="M1521.45 726h5.9v35.2h-1.4v-34.2h-3.1v34.2h-1.4z"/>
<path d="M1532.65 712.88h5.9v48.33h-1.4v-47.33h-3.1v47.33h-1.4z"/>
<path d="M1545.55 724.38h5.9v36.83h-1.4v-35.83h-3.1v35.83h-1.4z"/>
<path d="M1556.8 727.25h5.9v33.95h-1.4v-32.95h-3.1v32.95h-1.4z"/>
<path d="M1568.3 716h5.9v45.2h-1.4v-44.2h-3.1v44.2h-1.4z"/>
<path d="M1581.45 708.25h5.9v52.95h-1.4v-51.95h-3.1v51.95h-1.4z"/>
<path d="M1592.65 714.5h5.9v46.7h-1.4v-45.7h-3.1v45.7h-1.4z"/>
<path d="M1605.45 716h5.9v45.2h-1.4v-44.2h-3.1v44.2h-1.4z"/>
<path d="M1616.65 730.62h5.9v30.58h-1.4v-29.58h-3.1v29.58h-1.4z"/>
<path d="M1629.55 729.12h5.9v32.08h-1.4v-31.08h-3.1v31.08h-1.4z"/>
<path d="M1640.8 716h5.9v45.2h-1.4v-44.2h-3.1v44.2h-1.4z"/>
<path d="M1652.3 732.25h5.9v28.95h-1.4v-27.95h-3.1v27.95h-1.4z"/>
<path d="M1665.15 719.12h5.9v42.08h-1.4v-41.08h-3.1v41.08h-1.4z"/>
<path d="M1676.45 722.62h5.9v38.58h-1.4v-37.58h-3.1v37.58h-1.4z"/>
<path d="M1689.55 708.12h5.9v53.08h-1.4v-52.08h-3.1v52.08h-1.4z"/>
<path d="M1700.55 719.12h5.9v42.08h-1.4v-41.08h-3.1v41.08h-1.4z"/>
<path d="M1712.05 714.5h5.9v46.7h-1.4v-45.7h-3.1v45.7h-1.4z"/>
<path d="M1724.55 721h5.9v40.2h-1.4v-39.2h-3.1v39.2h-1.4z"/>
<path d="M1736.05 724.38h5.9v36.83h-1.4v-35.83h-3.1v35.83h-1.4z"/>
<path d="M1749.15 724.38h5.9v36.83h-1.4v-35.83h-3.1v35.83h-1.4z"/>
<path d="M1760.45 719.38h5.9v41.83h-1.4v-40.83h-3.1v40.83h-1.4z"/>
<path d="M1773.3 727.25h5.9v33.95h-1.4v-32.95h-3.1v32.95h-1.4z"/>
<path d="M1784.55 730.62h5.9v30.58h-1.4v-29.58h-3.1v29.58h-1.4z"/>
<path d="M1796.05 711.25h5.9v49.95h-1.4v-48.95h-3.1v48.95h-1.4z"/>
<path d="M1808.95 722.62h5.9v38.58h-1.4v-37.58h-3.1v37.58h-1.4z"/>
<path d="M1820.45 690.38h5.9v70.83h-1.4v-69.83h-3.1v69.83h-1.4z"/>
<path d="M1833.05 724.38h5.9v36.83h-1.4v-35.83h-3.1v35.83h-1.4z"/>
</g>
<g fill-opacity="0.84">
<rect x="13.05" y="675.12" width="3.1" height="86.08" fill="#00984a"/>
<rect x="24.05" y="696" width="3.1" height="65.2" fill="#00984a"/>
<rect x="37.2" y="717" width="3.1" height="44.2" fill="#00984a"/>
<rect x="48.45" y="675.12" width="3.1" height="86.08" fill="#00984a"/>
<rect x="61.55" y="698.25" width="3.1" height="62.95" fill="#00984a"/>
<rect x="72.85" y="714.25" width="3.1" height="46.95" fill="#00984a"/>
<rect x="85.7" y="727" width="3.1" height="34.2" fill="#00984a"/>
<rect x="96.95" y="711" width="3.1" height="50.2" fill="#00984a"/>
<rect x="108.2" y="712" width="3.1" height="49.2" fill="#ee1c28"/>
<rect x="120.95" y="694.75" width="3.1" height="66.45" fill="#00984a"/>
<rect x="132.45" y="684.88" width="3.1" height="76.33" fill="#00984a"/>
<rect x="145.35" y="689.75" width="3.1" height="71.45" fill="#ee1c28"/>
<rect x="156.95" y="713.88" width="3.1" height="47.33" fill="#00984a"/>
<rect x="167.85" y="705.75" width="3.1" height="55.45" fill="#00984a"/>
<rect x="180.95" y="720.38" width="3.1" height="40.83" fill="#00984a"/>
<rect x="191.95" y="720.38" width="3.1" height="40.83" fill="#00984a"/>
<rect x="205.05" y="683.25" width="3.1" height="77.95" fill="#00984a"/>
<rect x="216.55" y="688.25" width="3.1" height="72.95" fill="#ee1c28"/>
<rect x="229.45" y="683.25" width="3.1" height="77.95" fill="#ee1c28"/>
<rect x="240.7" y="694.5" width="3.1" height="66.7" fill="#ee1c28"/>
<rect x="251.95" y="717" width="3.1" height="44.2" fill="#ee1c28"/>
<rect x="264.7" y="696" width="3.1" height="65.2" fill="#00984a"/>
<rect x="275.95" y="713.88" width="3.1" height="47.33" fill="#00984a"/>
<rect x="288.85" y="705.75" width="3.1" height="55.45" fill="#00984a"/>
<rect x="300.35" y="712.25" width="3.1" height="48.95" fill="#ee1c28"/>
<rect x="311.85" y="731.62" width="3.1" height="29.58" fill="#00984a"/>
<rect x="324.7" y="718.88" width="3.1" height="42.33" fill="#ee1c28"/>
<rect x="335.95" y="725.38" width="3.1" height="35.83" fill="#ee1c28"/>
<rect x="348.85" y="725.38" width="3.1" height="35.83" fill="#00984a"/>
<rect x="360.05" y="668.88" width="3.1" height="92.33" fill="#ee1c28"/>
<rect x="373.05" y="688.25" width="3.1" height="72.95" fill="#ee1c28"/>
<rect x="384.35" y="693.25" width="3.1" height="67.95" fill="#00984a"/>
<rect x="395.7" y="701.38" width="3.1" height="59.83" fill="#ee1c28"/>
<rect x="408.45" y="715.75" width="3.1" height="45.45" fill="#00984a"/>
<rect x="419.95" y="727" width="3.1" height="34.2" fill="#00984a"/>
<rect x="432.85" y="688.88" width="3.1" height="72.33" fill="#00984a"/>
<rect x="444.05" y="701" width="3.1" height="60.2" fill="#ee1c28"/>
<rect x="456.95" y="712.25" width="3.1" height="48.95" fill="#00984a"/>
<rect x="468.2" y="697" width="3.1" height="64.2" fill="#00984a"/>
<rect x="479.7" y="699.5" width="3.1" height="61.7" fill="#00984a"/>
<rect x="492.55" y="717.25" width="3.1" height="43.95" fill="#00984a"/>
<rect x="503.85" y="720.38" width="3.1" height="40.83" fill="#00984a"/>
<rect x="516.85" y="693.25" width="3.1" height="67.95" fill="#00984a"/>
<rect x="528.05" y="717.25" width="3.1" height="43.95" fill="#00984a"/>
<rect x="539.35" y="712.38" width="3.1" height="48.83" fill="#00984a"/>
<rect x="552.2" y="713.88" width="3.1" height="47.33" fill="#ee1c28"/>
<rect x="563.7" y="730.38" width="3.1" height="30.83" fill="#00984a"/>
<rect x="576.55" y="713.88" width="3.1" height="47.33" fill="#00984a"/>
<rect x="587.85" y="701.12" width="3.1" height="60.08" fill="#00984a"/>
<rect x="600.7" y="683.5" width="3.1" height="77.7" fill="#00984a"/>
<rect x="611.95" y="720.38" width="3.1" height="40.83" fill="#00984a"/>
<rect x="623.45" y="705.75" width="3.1" height="55.45" fill="#00984a"/>
<rect x="636.35" y="691.62" width="3.1" height="69.58" fill="#00984a"/>
<rect x="647.85" y="693.25" width="3.1" height="67.95" fill="#00984a"/>
<rect x="660.55" y="712.38" width="3.1" height="48.83" fill="#ee1c28"/>
<rect x="671.95" y="668.88" width="3.1" height="92.33" fill="#ee1c28"/>
<rect x="683.05" y="693.25" width="3.1" height="67.95" fill="#00984a"/>
<rect x="695.95" y="709.25" width="3.1" height="51.95" fill="#00984a"/>
<rect x="707.2" y="711" width="3.1" height="50.2" fill="#ee1c28"/>
<rect x="720.05" y="612.5" width="3.1" height="148.7" fill="#ee1c28"/>
<rect x="731.55" y="623.75" width="3.1" height="137.45" fill="#00984a"/>
<rect x="744.45" y="590" width="3.1" height="171.2" fill="#ee1c28"/>
<rect x="755.95" y="590" width="3.1" height="171.2" fill="#ee1c28"/>
<rect x="766.95" y="613.12" width="3.1" height="148.08" fill="#00984a"/>
<rect x="779.95" y="672.25" width="3.1" height="88.95" fill="#ee1c28"/>
<rect x="790.95" y="683.88" width="3.1" height="77.33" fill="#00984a"/>
<rect x="804.05" y="674.5" width="3.1" height="86.7" fill="#00984a"/>
<rect x="815.55" y="689.75" width="3.1" height="71.45" fill="#00984a"/>
<rect x="826.95" y="678.88" width="3.1" height="82.33" fill="#00984a"/>
<rect x="839.95" y="689.75" width="3.1" height="71.45" fill="#00984a"/>
<rect x="850.95" y="673.88" width="3.1" height="87.33" fill="#ee1c28"/>
<rect x="863.85" y="706" width="3.1" height="55.2" fill="#00984a"/>
<rect x="875.05" y="706" width="3.1" height="55.2" fill="#ee1c28"/>
<rect x="888.05" y="709.25" width="3.1" height="51.95" fill="#00984a"/>
<rect x="899.45" y="675.12" width="3.1" height="86.08" fill="#00984a"/>
<rect x="910.95" y="678.5" width="3.1" height="82.7" fill="#00984a"/>
<rect x="923.85" y="667" width="3.1" height="94.2" fill="#00984a"/>
<rect x="935.05" y="696.38" width="3.1" height="64.83" fill="#00984a"/>
<rect x="947.85" y="702" width="3.1" height="59.2" fill="#00984a"/>
<rect x="959.05" y="685.12" width="3.1" height="76.08" fill="#00984a"/>
<rect x="972.2" y="691" width="3.1" height="70.2" fill="#ee1c28"/>
<rect x="983.45" y="674" width="3.1" height="87.2" fill="#00984a"/>
<rect x="994.7" y="660" width="3.1" height="101.2" fill="#00984a"/>
<rect x="1007.85" y="666.25" width="3.1" height="94.95" fill="#00984a"/>
<rect x="1019.05" y="673.5" width="3.1" height="87.7" fill="#00984a"/>
<rect x="1031.95" y="655" width="3.1" height="106.2" fill="#00984a"/>
<rect x="1043.2" y="650" width="3.1" height="111.2" fill="#ee1c28"/>
<rect x="1054.45" y="680.12" width="3.1" height="81.08" fill="#ee1c28"/>
<rect x="1067.2" y="661.25" width="3.1" height="99.95" fill="#ee1c28"/>
<rect x="1078.85" y="672" width="3.1" height="89.2" fill="#00984a"/>
<rect x="1091.55" y="694.75" width="3.1" height="66.45" fill="#00984a"/>
<rect x="1102.85" y="704.5" width="3.1" height="56.7" fill="#00984a"/>
<rect x="1115.95" y="668.88" width="3.1" height="92.33" fill="#00984a"/>
<rect x="1127.2" y="707.62" width="3.1" height="53.58" fill="#ee1c28"/>
<rect x="1138.45" y="689.75" width="3.1" height="71.45" fill="#ee1c28"/>
<rect x="1151.35" y="698" width="3.1" height="63.2" fill="#00984a"/>
<rect x="1162.85" y="699.5" width="3.1" height="61.7" fill="#00984a"/>
<rect x="1175.7" y="720.38" width="3.1" height="40.83" fill="#ee1c28"/>
<rect x="1186.95" y="723.62" width="3.1" height="37.58" fill="#ee1c28"/>
<rect x="1198.2" y="704.25" width="3.1" height="56.95" fill="#00984a"/>
<rect x="1210.95" y="713.88" width="3.1" height="47.33" fill="#00984a"/>
<rect x="1222.45" y="696.38" width="3.1" height="64.83" fill="#00984a"/>
<rect x="1235.35" y="715.5" width="3.1" height="45.7" fill="#00984a"/>
<rect x="1246.85" y="715.5" width="3.1" height="45.7" fill="#00984a"/>
<rect x="1259.7" y="696.38" width="3.1" height="64.83" fill="#ee1c28"/>
<rect x="1270.95" y="710.75" width="3.1" height="50.45" fill="#ee1c28"/>
<rect x="1282.2" y="715.5" width="3.1" height="45.7" fill="#00984a"/>
<rect x="1295.05" y="685.12" width="3.1" height="76.08" fill="#ee1c28"/>
<rect x="1306.55" y="715.5" width="3.1" height="45.7" fill="#00984a"/>
<rect x="1319.35" y="725.38" width="3.1" height="35.83" fill="#ee1c28"/>
<rect x="1330.7" y="723.88" width="3.1" height="37.33" fill="#ee1c28"/>
<rect x="1341.95" y="688.25" width="3.1" height="72.95" fill="#ee1c28"/>
<rect x="1354.95" y="691.38" width="3.1" height="69.83" fill="#00984a"/>
<rect x="1365.95" y="699.5" width="3.1" height="61.7" fill="#ee1c28"/>
<rect x="1379.05" y="694.75" width="3.1" height="66.45" fill="#ee1c28"/>
<rect x="1390.55" y="710.75" width="3.1" height="50.45" fill="#00984a"/>
<rect x="1403.2" y="723.62" width="3.1" height="37.58" fill="#00984a"/>
<rect x="1414.7" y="713.88" width="3.1" height="47.33" fill="#00984a"/>
<rect x="1425.95" y="715.5" width="3.1" height="45.7" fill="#00984a"/>
<rect x="1438.85" y="717" width="3.1" height="44.2" fill="#00984a"/>
<rect x="1450.05" y="709.12" width="3.1" height="52.08" fill="#ee1c28"/>
<rect x="1463.05" y="713.88" width="3.1" height="47.33" fill="#ee1c28"/>
<rect x="1474.35" y="707.62" width="3.1" height="53.58" fill="#ee1c28"/>
<rect x="1485.7" y="720.38" width="3.1" height="40.83" fill="#ee1c28"/>
<rect x="1498.45" y="723.62" width="3.1" height="37.58" fill="#ee1c28"/>
<rect x="1509.95" y="733.25" width="3.1" height="27.95" fill="#00984a"/>
<rect x="1522.85" y="727" width="3.1" height="34.2" fill="#00984a"/>
<rect x="1534.05" y="713.88" width="3.1" height="47.33" fill="#00984a"/>
<rect x="1546.95" y="725.38" width="3.1" height="35.83" fill="#00984a"/>
<rect x="1558.2" y="728.25" width="3.1" height="32.95" fill="#00984a"/>
<rect x="1569.7" y="717" width="3.1" height="44.2" fill="#00984a"/>
<rect x="1582.85" y="709.25" width="3.1" height="51.95" fill="#00984a"/>
<rect x="1594.05" y="715.5" width="3.1" height="45.7" fill="#00984a"/>
<rect x="1606.85" y="717" width="3.1" height="44.2" fill="#ee1c28"/>
<rect x="1618.05" y="731.62" width="3.1" height="29.58" fill="#00984a"/>
<rect x="1630.95" y="730.12" width="3.1" height="31.08" fill="#00984a"/>
<rect x="1642.2" y="717" width="3.1" height="44.2" fill="#ee1c28"/>
<rect x="1653.7" y="733.25" width="3.1" height="27.95" fill="#00984a"/>
<rect x="1666.55" y="720.12" width="3.1" height="41.08" fill="#00984a"/>
<rect x="1677.85" y="723.62" width="3.1" height="37.58" fill="#ee1c28"/>
<rect x="1690.95" y="709.12" width="3.1" height="52.08" fill="#ee1c28"/>
<rect x="1701.95" y="720.12" width="3.1" height="41.08" fill="#00984a"/>
<rect x="1713.45" y="715.5" width="3.1" height="45.7" fill="#ee1c28"/>
<rect x="1725.95" y="722" width="3.1" height="39.2" fill="#00984a"/>
<rect x="1737.45" y="725.38" width="3.1" height="35.83" fill="#00984a"/>
<rect x="1750.55" y="725.38" width="3.1" height="35.83" fill="#00984a"/>
<rect x="1761.85" y="720.38" width="3.1" height="40.83" fill="#00984a"/>
<rect x="1774.7" y="728.25" width="3.1" height="32.95" fill="#00984a"/>
<rect x="1785.95" y="731.62" width="3.1" height="29.58" fill="#ee1c28"/>
<rect x="1797.45" y="712.25" width="3.1" height="48.95" fill="#00984a"/>
<rect x="1810.35" y="723.62" width="3.1" height="37.58" fill="#ee1c28"/>
<rect x="1821.85" y="691.38" width="3.1" height="69.83" fill="#00984a"/>
<rect x="1834.45" y="725.38" width="3.1" height="35.83" fill="#00984a"/>
</g>
<path d="M10 724.5 L15.66 722 L27.64 717 L39.62 715.75 L51.6 713.88 L63.75 712 L75.2 708.25 L88 705.75 L99.3 704.5 L112.2 708.88 L123.75 701.38 L135 702.62 L147.9 699.5 L159 693.88 L172 692.62 L183.1 692 L194.6 688.88 L206.25 687.62 L218.75 693.88 L231.6 697.62 L242.9 701.38 L256 707 L267.1 699.5 L278.75 698.25 L291.5 691.62 L302.75 691.62 L315.9 688 L326.9 685.12 L340 687.62 L351.25 682 L363 691.62 L375.4 693.25 L386.4 694.75 L399.6 698.88 L410.9 693.88 L422.1 690.12 L435.25 687 L446.3 688.25 L458.7 692 L470.9 692 L483.75 690.5 L495 689.25 L506.25 685.12 L519 681.12 L530.4 678.62 L543.4 677 L554.75 677.62 L566 673.88 L578.75 673.5 L590.25 671.38 L603.1 666 L614.4 663.88 L627.25 663.25 L638.5 657.5 L650 652.25 L662.9 655 L674.1 659.38 L687.1 650 L698.4 644.38 L709.75 646.88 L722.5 675.12 L734 675.75 L746.9 695.12 L758.3 723.25 L770.9 706.38 L782.4 710.12 L793.6 687 L806.5 673.88 L817.9 674.25 L830.9 675.12 L842.1 661 L853.4 663.25 L866.25 655 L877.5 650.62 L890.6 641.25 L901.9 647.5 L914.75 637.75 L926 642.12 L937.5 630.62 L950.25 618.12 L961.6 621.25 L974.6 625 L986 614.38 L998.75 606.88 L1010 606.88 L1021.25 600 L1034.1 588.12 L1045.6 599.38 L1058.5 611.25 L1069.75 613.5 L1081 610 L1094 605.88 L1105.25 591.67 L1118.1 588.92 L1129.6 592.12 L1142.5 611.15 L1153.75 582.5 L1165 584.33 L1178.1 583.65 L1189.3 574.48 L1202.1 566.92 L1213.5 568.75 L1225 558.44 L1237.75 556.83 L1249 554.54 L1261.9 545.83 L1273.1 550.88 L1286.25 535.98 L1297.5 549.96 L1308.75 527.5 L1321.6 521.08 L1333.1 527.04 L1346 545.83 L1357.25 553.85 L1368.75 542.4 L1381.5 545.38 L1392.9 547.67 L1405.75 537.81 L1417.1 526.35 L1430 522.23 L1441.25 522.92 L1452.5 524.29 L1465.4 530.25 L1476.9 539 L1489.6 538.08 L1501 530.52 L1512.25 528.23 L1525 521.35 L1536.5 522.5 L1549.4 513.33 L1560.9 505.31 L1573.5 503.71 L1585 511.04 L1596.25 500.04 L1609.1 504.17 L1620.4 500.04 L1633.1 500.5 L1644.6 503.48 L1657.5 491.56 L1669 485.15 L1680 492.25 L1693.1 494.54 L1704.4 494.54 L1717.25 507.38 L1728.75 507.38 L1740 498.44 L1752.9 493.17 L1764.1 481.25 L1777 467.96 L1788.4 470.94 L1801.25 465.21 L1812.75 481.25 L1824 493.17 L1836.9 473.92" fill="none" stroke="#68c9f7" stroke-width="2.9" stroke-linejoin="round" stroke-linecap="butt"/>
<path d="M10 724.5 L15.66 722.62 L27.64 717.62 L39.62 717 L51.6 715.12 L63.75 713.88 L75.2 710.12 L88 708.25 L99.3 707 L112.2 711.38 L123.75 705.75 L135 707.62 L147.9 705.12 L159 700.12 L172 699.12 L183.1 698.88 L194.6 697 L206.25 696.62 L218.75 700.75 L231.6 702.62 L242.9 705.75 L256 710.5 L267.1 702 L278.75 701 L291.5 696 L302.75 696.62 L315.9 693.25 L326.9 691.38 L340 694.25 L351.25 690.5 L363 697.62 L375.4 699.12 L386.4 700.75 L399.6 703.25 L410.9 698.88 L422.1 695.12 L435.25 692 L446.3 693.25 L458.7 695.12 L470.9 695.75 L483.75 694.5 L495 693.25 L506.25 690.5 L519 687.62 L530.4 685.5 L543.4 683.25 L554.75 684.5 L566 682 L578.75 681.38 L590.25 680.12 L603.1 676 L614.4 674.5 L627.25 674.75 L638.5 671.88 L650 667.25 L662.9 670 L674.1 675 L687.1 667.5 L698.4 665 L709.75 666.88 L722.5 695.75 L734 694.75 L746.9 713.88 L758.3 743.88 L770.9 727 L782.4 730.75 L793.6 708.5 L806.5 702.25 L817.9 704.5 L830.9 705.5 L842.1 698 L853.4 702.62 L866.25 695.75 L877.5 688.88 L890.6 677.62 L901.9 688.88 L914.75 685.12 L926 690.5 L937.5 683.25 L950.25 678.25 L961.6 675.5 L974.6 676 L986 672.5 L998.75 666.25 L1010 665 L1021.25 662.75 L1034.1 655 L1045.6 660 L1058.5 666.5 L1069.75 668.75 L1081 670.04 L1094 666.83 L1105.25 656.98 L1118.1 656.52 L1129.6 657.67 L1142.5 671.88 L1153.75 659.27 L1165 650.1 L1178.1 650.79 L1189.3 644.83 L1202.1 640.25 L1213.5 642.54 L1225 639.33 L1237.75 639.33 L1249 635.67 L1261.9 631.08 L1273.1 635.21 L1286.25 629.94 L1297.5 638.65 L1308.75 625.58 L1321.6 622.6 L1333.1 624.9 L1346 631.77 L1357.25 629.48 L1368.75 621.92 L1381.5 624.21 L1392.9 619.62 L1405.75 616.19 L1417.1 608.17 L1430 604.27 L1441.25 604.27 L1452.5 604.27 L1465.4 600.38 L1476.9 603.85 L1489.6 605.92 L1501 602.25 L1512.25 600.42 L1525 599.04 L1536.5 605 L1549.4 596.98 L1560.9 591.25 L1573.5 590.1 L1585 593.08 L1596.25 586.67 L1609.1 587.81 L1620.4 584.83 L1633.1 582.77 L1644.6 584.83 L1657.5 579.79 L1669 577.73 L1680 583.23 L1693.1 585.29 L1704.4 583.92 L1717.25 590.79 L1728.75 588.5 L1740 582.54 L1752.9 577.04 L1764.1 572.46 L1777 565.35 L1788.4 566.27 L1801.25 565.35 L1812.75 572.92 L1824 577.5 L1836.9 565.58" fill="none" stroke="#a96bfb" stroke-width="2.9" stroke-linejoin="round" stroke-linecap="butt"/>
<rect x="10" y="760.8" width="1834" height="1.4" fill="#b4b4b4"/>
<rect x="1842.7" y="1" width="1.4" height="761" fill="#bebebe"/>
<rect x="158.15" y="762" width="1.2" height="9" fill="#b4b4b4"/>
<rect x="315.4" y="762" width="1.2" height="9" fill="#b4b4b4"/>
<rect x="482.7" y="762" width="1.2" height="9" fill="#b4b4b4"/>
<rect x="631.5" y="762" width="1.2" height="9" fill="#b4b4b4"/>
<rect x="792.9" y="762" width="1.2" height="9" fill="#b4b4b4"/>
<rect x="949.4" y="762" width="1.2" height="9" fill="#b4b4b4"/>
<rect x="1104.6" y="762" width="1.2" height="9" fill="#b4b4b4"/>
<rect x="1254.8" y="762" width="1.2" height="9" fill="#b4b4b4"/>
<rect x="1416.1" y="762" width="1.2" height="9" fill="#b4b4b4"/>
<rect x="1572.9" y="762" width="1.2" height="9" fill="#b4b4b4"/>
<rect x="1727.9" y="762" width="1.2" height="9" fill="#b4b4b4"/>
<rect x="1843.4" y="64.7" width="4.6" height="1" fill="#b4b4b4"/>
<rect x="1843.4" y="159.8" width="4.6" height="1" fill="#b4b4b4"/>
<rect x="1843.4" y="253.8" width="4.6" height="1" fill="#b4b4b4"/>
<rect x="1843.4" y="348.9" width="4.6" height="1" fill="#b4b4b4"/>
<rect x="1843.4" y="444.3" width="4.6" height="1" fill="#b4b4b4"/>
<rect x="1843.4" y="538.1" width="4.6" height="1" fill="#b4b4b4"/>
<rect x="1843.4" y="633.2" width="4.6" height="1" fill="#b4b4b4"/>
<g font-family="'Liberation Sans', sans-serif" font-size="22" fill="#fff" text-anchor="middle">
<rect x="49.75" y="635.4" width="31.4" height="31.4" rx="3.5" fill="#000" fill-opacity="0.05"/>
<rect x="49.85" y="634.4" width="29.8" height="29.8" rx="2.6" fill="#fff" fill-opacity="0.6"/>
<rect x="50.45" y="635" width="28.6" height="28.6" rx="1.6" fill="#545a63"/>
<text transform="translate(64.95 657.5) scale(0.88 1)">D</text>
<rect x="204.75" y="635.4" width="31.4" height="31.4" rx="3.5" fill="#000" fill-opacity="0.05"/>
<rect x="204.85" y="634.4" width="29.8" height="29.8" rx="2.6" fill="#fff" fill-opacity="0.6"/>
<rect x="205.45" y="635" width="28.6" height="28.6" rx="1.6" fill="#545a63"/>
<text transform="translate(219.95 657.5) scale(0.88 1)">D</text>
<rect x="361.4" y="635.4" width="31.4" height="31.4" rx="3.5" fill="#000" fill-opacity="0.05"/>
<rect x="361.5" y="634.4" width="29.8" height="29.8" rx="2.6" fill="#fff" fill-opacity="0.6"/>
<rect x="362.1" y="635" width="28.6" height="28.6" rx="1.6" fill="#545a63"/>
<text transform="translate(376.6 657.5) scale(0.88 1)">D</text>
<rect x="516.4" y="635.4" width="31.4" height="31.4" rx="3.5" fill="#000" fill-opacity="0.05"/>
<rect x="516.5" y="634.4" width="29.8" height="29.8" rx="2.6" fill="#fff" fill-opacity="0.6"/>
<rect x="517.1" y="635" width="28.6" height="28.6" rx="1.6" fill="#545a63"/>
<text transform="translate(531.6 657.5) scale(0.88 1)">D</text>
<rect x="673.1" y="635.4" width="31.4" height="31.4" rx="3.5" fill="#000" fill-opacity="0.05"/>
<rect x="673.2" y="634.4" width="29.8" height="29.8" rx="2.6" fill="#fff" fill-opacity="0.6"/>
<rect x="673.8" y="635" width="28.6" height="28.6" rx="1.6" fill="#545a63"/>
<text transform="translate(688.3 657.5) scale(0.88 1)">D</text>
<rect x="828.1" y="635.4" width="31.4" height="31.4" rx="3.5" fill="#000" fill-opacity="0.05"/>
<rect x="828.2" y="634.4" width="29.8" height="29.8" rx="2.6" fill="#fff" fill-opacity="0.6"/>
<rect x="828.8" y="635" width="28.6" height="28.6" rx="1.6" fill="#545a63"/>
<text transform="translate(843.3 657.5) scale(0.88 1)">D</text>
<rect x="984.75" y="635.4" width="31.4" height="31.4" rx="3.5" fill="#000" fill-opacity="0.05"/>
<rect x="984.85" y="634.4" width="29.8" height="29.8" rx="2.6" fill="#fff" fill-opacity="0.6"/>
<rect x="985.45" y="635" width="28.6" height="28.6" rx="1.6" fill="#545a63"/>
<text transform="translate(999.95 657.5) scale(0.88 1)">D</text>
<rect x="1031.6" y="635.4" width="31.4" height="31.4" rx="3.5" fill="#000" fill-opacity="0.05"/>
<rect x="1031.7" y="634.4" width="29.8" height="29.8" rx="2.6" fill="#fff" fill-opacity="0.6"/>
<rect x="1032.3" y="635" width="28.6" height="28.6" rx="1.6" fill="#545a63"/>
<text transform="translate(1046.8 657.5) scale(0.88 1)">S</text>
<rect x="1139.75" y="635.4" width="31.4" height="31.4" rx="3.5" fill="#000" fill-opacity="0.05"/>
<rect x="1139.85" y="634.4" width="29.8" height="29.8" rx="2.6" fill="#fff" fill-opacity="0.6"/>
<rect x="1140.45" y="635" width="28.6" height="28.6" rx="1.6" fill="#545a63"/>
<text transform="translate(1154.95 657.5) scale(0.88 1)">D</text>
<rect x="1294.75" y="635.4" width="31.4" height="31.4" rx="3.5" fill="#000" fill-opacity="0.05"/>
<rect x="1294.85" y="634.4" width="29.8" height="29.8" rx="2.6" fill="#fff" fill-opacity="0.6"/>
<rect x="1295.45" y="635" width="28.6" height="28.6" rx="1.6" fill="#545a63"/>
<text transform="translate(1309.95 657.5) scale(0.88 1)">D</text>
<rect x="1451.4" y="635.4" width="31.4" height="31.4" rx="3.5" fill="#000" fill-opacity="0.05"/>
<rect x="1451.5" y="634.4" width="29.8" height="29.8" rx="2.6" fill="#fff" fill-opacity="0.6"/>
<rect x="1452.1" y="635" width="28.6" height="28.6" rx="1.6" fill="#545a63"/>
<text transform="translate(1466.6 657.5) scale(0.88 1)">D</text>
<rect x="1606.4" y="635.4" width="31.4" height="31.4" rx="3.5" fill="#000" fill-opacity="0.05"/>
<rect x="1606.5" y="634.4" width="29.8" height="29.8" rx="2.6" fill="#fff" fill-opacity="0.6"/>
<rect x="1607.1" y="635" width="28.6" height="28.6" rx="1.6" fill="#545a63"/>
<text transform="translate(1621.6 657.5) scale(0.88 1)">D</text>
<rect x="1763" y="635.4" width="31.4" height="31.4" rx="3.5" fill="#000" fill-opacity="0.05"/>
<rect x="1763.1" y="634.4" width="29.8" height="29.8" rx="2.6" fill="#fff" fill-opacity="0.6"/>
<rect x="1763.7" y="635" width="28.6" height="28.6" rx="1.6" fill="#545a63"/>
<text transform="translate(1778.2 657.5) scale(0.88 1)">D</text>
</g>
<rect x="872.5" y="691" width="130.5" height="47.5" rx="3" fill="#fdfdfd" fill-opacity="0.82"/>
<rect x="873.5" y="738" width="128" height="1.4" fill="#c4c4c4" fill-opacity="0.85"/>
<rect x="1002" y="696" width="1.2" height="42" fill="#d0d0d0" fill-opacity="0.6"/>
<g fill="#5c5c5c" fill-opacity="0.88"><rect x="893.7" y="712.3" width="24" height="5.2"/>
<path d="M958.7 712.3H968.1V703H973.5V712.3H982.7V717.5H973.5V726.8H968.1V717.5H958.7Z"/></g>
</svg>
<div class="wm"><span style="letter-spacing:-1.25px">yahoo</span><i style="display:inline-block;transform:skewX(-10deg) scaleX(1.15);margin:0 5.5px 0 1.5px">!</i><span style="letter-spacing:-0.5px">finance</span></div>
<div class="pill" style="left:25.6px;width:143.4px"><div class="strip" style="background:#0081f2"></div><div class="tx" style="left:16.9px">AAPL</div><div class="tx pr" style="left:73.9px">161.84</div></div>
<div class="pill" style="left:177.5px;width:197.5px"><div class="strip" style="background:#72d0ff"></div><div class="tx" style="left:17.5px">^IXIC</div><div class="tx pr" style="left:72.5px">15085.47</div><svg style="left:171.2px" width="13.2" height="13.2" viewBox="0 0 13 13"><path d="M0.6 0.6L12.4 12.4M12.4 0.6L0.6 12.4" stroke="#666" stroke-width="1.5" fill="none"/></svg></div>
<div class="pill" style="left:383.5px;width:197.3px"><div class="strip" style="background:#ad6eff"></div><div class="tx" style="left:16.5px;letter-spacing:-0.85px">^GSPC</div><div class="tx pr" style="left:83.4px">4538.43</div><svg style="left:170.2px" width="13.2" height="13.2" viewBox="0 0 13 13"><path d="M0.6 0.6L12.4 12.4M12.4 0.6L0.6 12.4" stroke="#666" stroke-width="1.5" fill="none"/></svg></div>
<div class="yl" style="top:58.1px">350.00%</div><div class="yl" style="top:153.2px">300.00%</div><div class="yl" style="top:247.2px">250.00%</div><div class="yl" style="top:342.3px">200.00%</div><div class="yl" style="top:437.7px">150.00%</div><div class="yl" style="top:531.5px">100.00%</div><div class="yl" style="top:626.6px">50.00%</div><div class="xl yr" style="left:-10.5px">19</div><div class="xl" style="left:128.75px">Apr</div><div class="xl" style="left:286px">Jul</div><div class="xl" style="left:453.3px">Oct</div><div class="xl yr" style="left:602.1px">2020</div><div class="xl" style="left:763.5px">Apr</div><div class="xl" style="left:920px">Jul</div><div class="xl" style="left:1075.2px">Oct</div><div class="xl yr" style="left:1225.4px">2021</div><div class="xl" style="left:1386.7px">Apr</div><div class="xl" style="left:1543.5px">Jul</div><div class="xl" style="left:1698.5px">Oct</div>
<div class="pl" style="top:7px;width:72.5px;background:#0081f2;color:#fff">372.36%</div>
<div class="pl" style="top:458px;width:72.5px;background:#72d0ff;color:#0b1a26">134.27%</div>
<div class="pl" style="top:550.3px;width:64px;background:#ad6eff;color:#1a0b2e">85.68%</div>
<div class="pl" style="top:705.8px;width:72px;background:#b9bdc8;color:#3e434e">341.48M</div>
</body></html>
